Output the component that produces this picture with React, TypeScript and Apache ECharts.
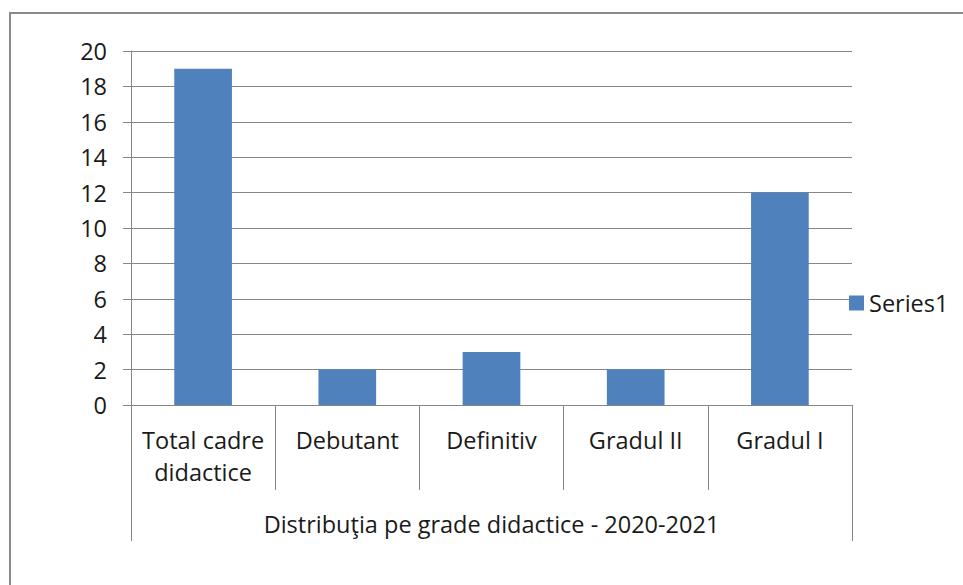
import React, { useEffect, useRef } from "react";
import * as echarts from "echarts";

const categories = ["Total cadre\ndidactice", "Debutant", "Definitiv", "Gradul II", "Gradul I"];
const groupLabel = ["Distribuţia pe grade didactice - 2020-2021"];
const seriesName = "Series1";
const seriesValues = [19, 2, 3, 2, 12];
const yMin = 0;
const yMax = 20;
const yInterval = 2;

const FONT = "'Open Sans', 'Noto Sans', sans-serif";
const FS = 23.5;
const GRAY = "#868686";
const TEXT = "#1a1a1a";

export default function App() {
  const ref = useRef<HTMLDivElement>(null);
  useEffect(() => {
    if (!ref.current) return;
    const chart = echarts.init(ref.current, undefined, { renderer: "svg" });
    chart.setOption({
      animation: false,
      backgroundColor: "#ffffff",
      textStyle: { fontFamily: FONT },
      graphic: [
        {
          type: "rect",
          shape: { x: 10, y: 13, width: 1000, height: 1000 },
          style: { fill: "none", stroke: "#8a8a8a", lineWidth: 2 },
          silent: true,
        },
      ],
      grid: { left: 131, right: 111, top: 51, bottom: 180, containLabel: false },
      legend: {
        orient: "vertical",
        left: 844,
        top: 285,
        icon: "rect",
        itemWidth: 15,
        itemHeight: 15,
        data: [seriesName],
        textStyle: { fontFamily: FONT, fontSize: FS, color: TEXT, lineHeight: 26 },
      },
      xAxis: [
        {
          type: "category",
          data: categories,
          position: "bottom",
          axisLine: { show: true, lineStyle: { color: GRAY, width: 1 } },
          axisTick: { show: true, length: 85, interval: 0, lineStyle: { color: GRAY } },
          axisLabel: {
            interval: 0,
            margin: 19,
            fontFamily: FONT,
            fontSize: FS,
            lineHeight: 32,
            color: TEXT,
          },
          splitLine: { show: false },
        },
        {
          type: "category",
          data: groupLabel,
          position: "bottom",
          axisLine: { show: false },
          axisTick: { show: true, length: 136, lineStyle: { color: GRAY } },
          axisLabel: {
            margin: 103,
            fontFamily: FONT,
            fontSize: FS,
            lineHeight: 32,
            color: TEXT,
          },
          splitLine: { show: false },
        },
      ],
      yAxis: {
        type: "value",
        min: yMin,
        max: yMax,
        interval: yInterval,
        axisLine: { show: true, lineStyle: { color: GRAY } },
        axisTick: { show: true, length: 8, inside: false, lineStyle: { color: GRAY } },
        axisLabel: { margin: 24, fontFamily: FONT, fontSize: FS, color: TEXT },
        splitLine: { show: true, lineStyle: { color: GRAY, width: 1 } },
      },
      series: [
        {
          name: seriesName,
          type: "bar",
          xAxisIndex: 0,
          data: seriesValues,
          barWidth: "40%",
          itemStyle: { color: "#4f81bd" },
        },
      ],
    });
    return () => chart.dispose();
  }, []);
  return (
    <div
      ref={ref}
      style={{ position: "absolute", left: 0, top: 0, width: 963, height: 585 }}
    />
  );
}
